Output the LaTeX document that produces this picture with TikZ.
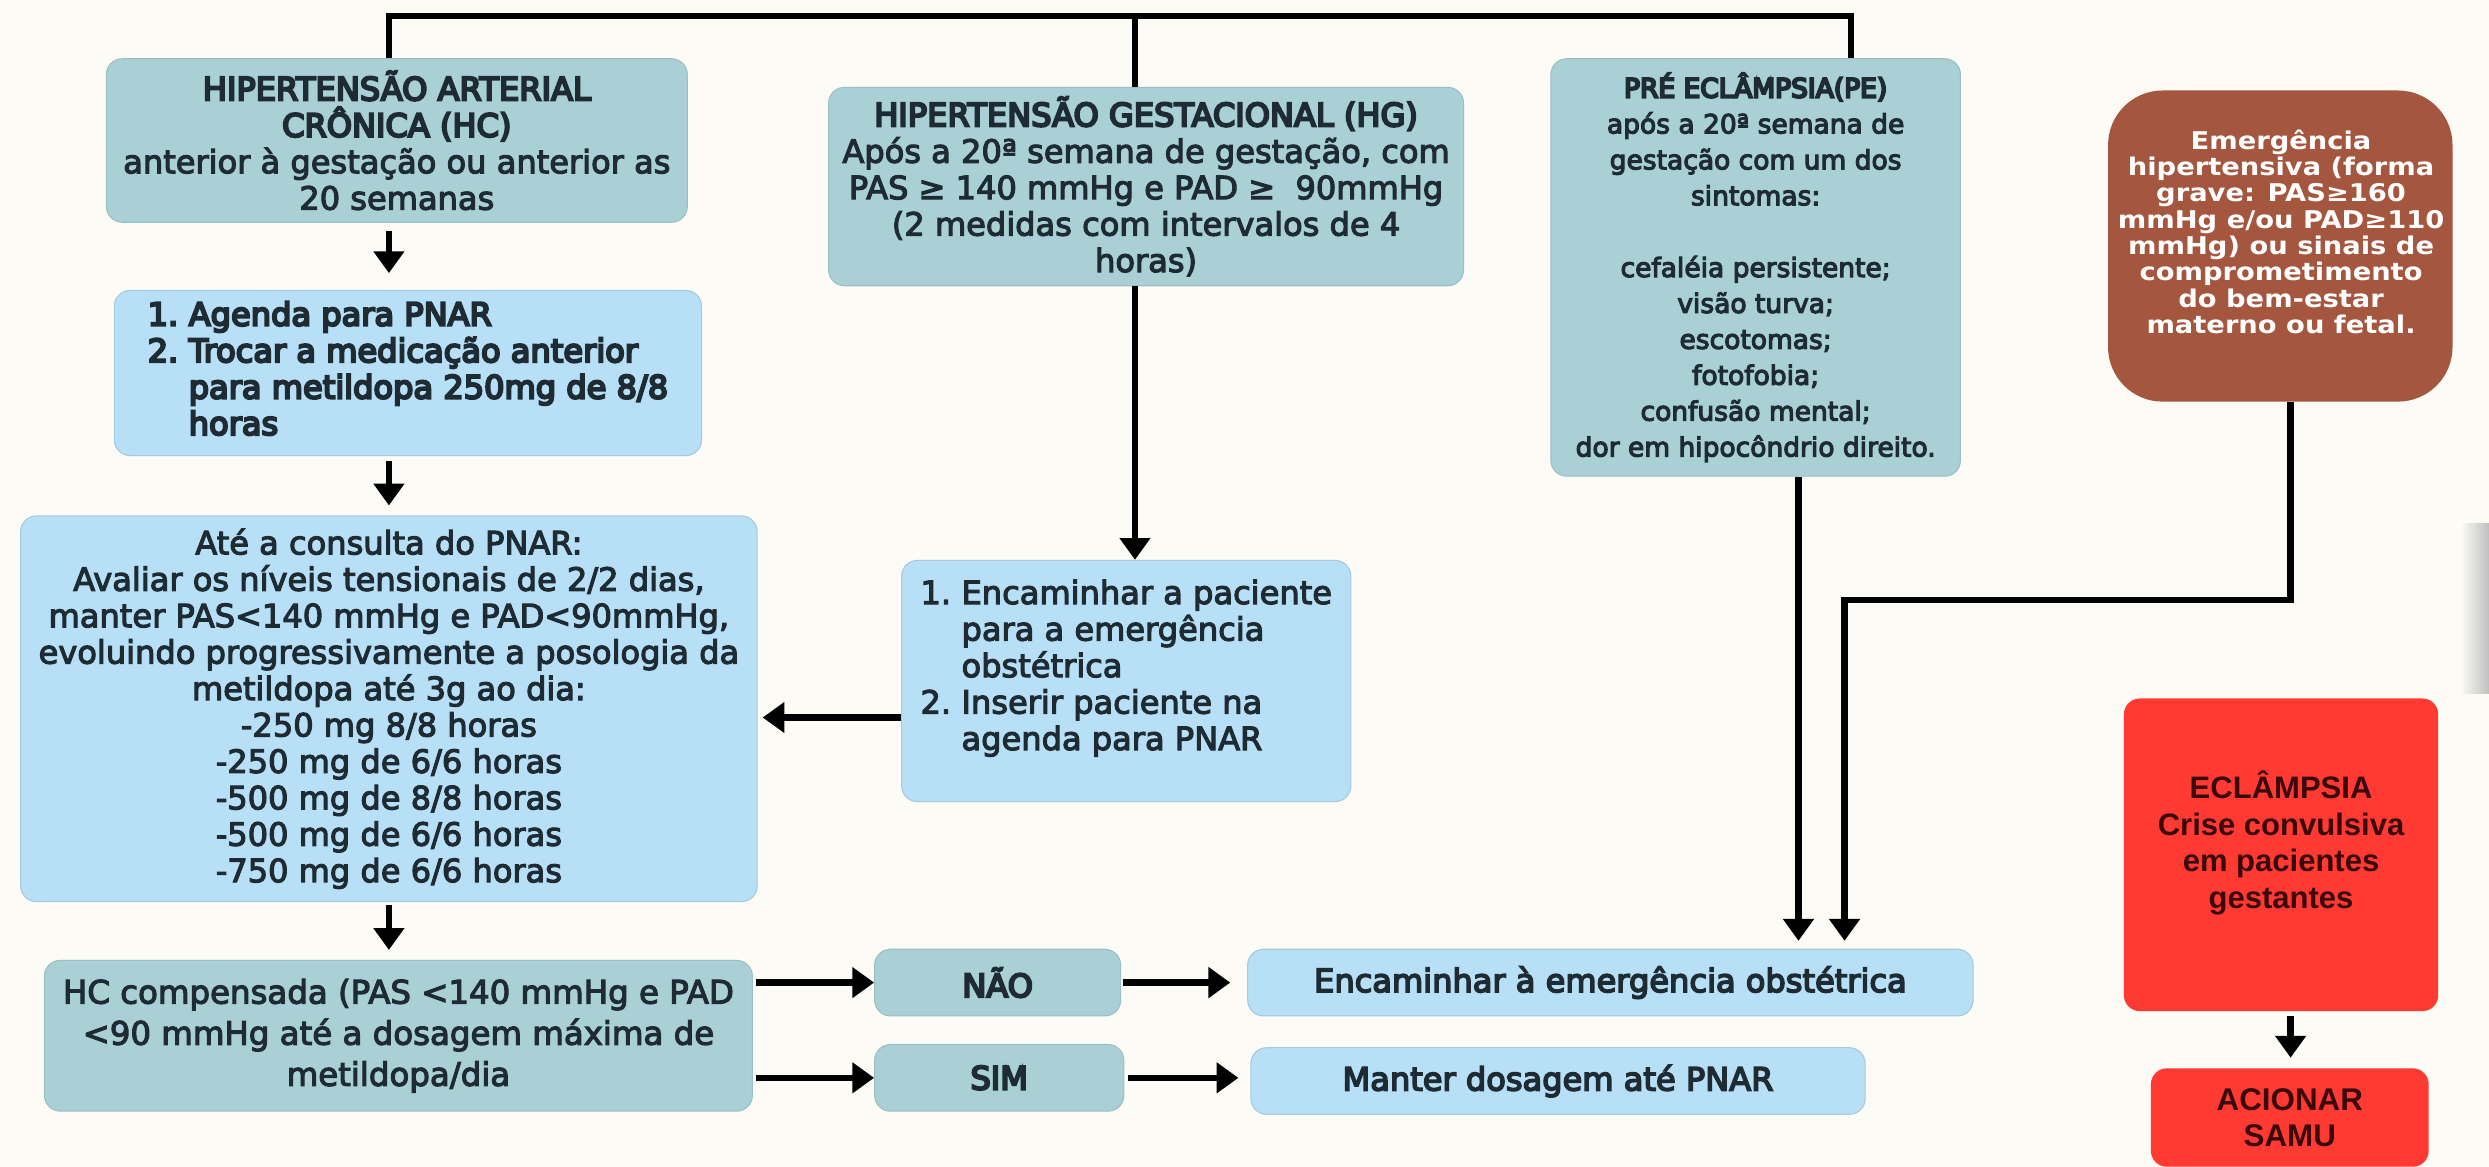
\documentclass[tikz,border=0pt]{standalone}
\usepackage{fontspec}
\setmainfont{DejaVu Sans}
\newfontfamily\brownf{DejaVu Sans Bold}[FakeStretch=1.12]
\newfontfamily\lib{Liberation Sans}
\usetikzlibrary{arrows.meta,calc}
\definecolor{bgc}{HTML}{FCFBF6}
\definecolor{tealc}{HTML}{A8D0D5}
\definecolor{bluec}{HTML}{B7DFF6}
\definecolor{brownc}{HTML}{A4563F}
\definecolor{redc}{HTML}{FF3A33}
\definecolor{txt}{HTML}{1E2B33}
\definecolor{redtxt}{HTML}{3A0808}
% text weight through stroke width (pdf text render mode 2)
\newcommand{\wt}[1]{\special{pdf:literal direct 2 Tr #1 w}}
\newcommand{\nowt}{\special{pdf:literal direct 0 Tr}}
\newcommand{\ttl}[1]{{\wt{0.6}#1\wt{0.32}}}
\newcommand{\fnine}{\fontsize{9.2}{10.45}\selectfont}
\begin{document}
\begin{tikzpicture}[x=0.016cm, y=-0.016cm,
  sz/.style 2 args={minimum width=#1*0.016cm, minimum height=#2*0.016cm},
  base/.style={rounded corners=0.16cm, align=center, inner sep=0pt, text=txt, font=\fnine\wt{0.32}},
  tealbox/.style={base, fill=tealc, draw=tealc!92!black, line width=0.3pt},
  bluebox/.style={base, fill=bluec, draw=bluec!90!black, line width=0.3pt},
  brownbox/.style={base, rounded corners=0.55cm, fill=brownc, draw=none},
  redbox/.style={base, fill=redc, draw=none},
  plain/.style={align=center, inner sep=0pt, text=txt, font=\fnine\wt{0.32}},
  conn/.style={line width=1.9pt, draw=black},
  arr/.style={conn, -{Triangle[width=0.3cm,length=0.22cm]}}
]
\fill[bgc] (0,0) rectangle (1568,735);
\useasboundingbox (0,0) rectangle (1568,735);
\shade[left color=bgc, right color=black!25, draw=none] (1550,330) rectangle (1568,437);

% left column
\node[tealbox, sz={366}{103}] (hc) at (250,88.5)
  {\ttl{HIPERTENSÃO ARTERIAL}\\\ttl{CRÔNICA (HC)}\\anterior à gestação ou anterior as\\20 semanas};
\node[bluebox, sz={370}{104}, font=\fnine\wt{0.6}] (ag) at (257,235)
  {\begin{tabular}{@{}r@{\hspace{3pt}}l@{}}
   1. & Agenda para PNAR\\
   2. & Trocar a medicação anterior\\
      & para metildopa 250mg de 8/8\\
      & horas
  \end{tabular}};
\node[bluebox, sz={464}{243}] (cons) at (245,446.5)
  {Até a consulta do PNAR:\\
   Avaliar os níveis tensionais de 2/2 dias,\\
   manter PAS<140 mmHg e PAD<90mmHg,\\
   evoluindo progressivamente a posologia da\\
   metildopa até 3g ao dia:\\
   -250 mg 8/8 horas\\
   -250 mg de 6/6 horas\\
   -500 mg de 8/8 horas\\
   -500 mg de 6/6 horas\\
   -750 mg de 6/6 horas};
\node[tealbox, sz={446}{95}, font=\fontsize{9.3}{11.8}\selectfont\wt{0.32}] (hcc) at (251,652.5)
  {HC compensada (PAS <140 mmHg e PAD\\<90 mmHg até a dosagem máxima de\\metildopa/dia};

% decisions
\node[tealbox, sz={155}{42}, font=\fnine\wt{0.6}] (nao) at (628.5,619) {NÃO};
\node[tealbox, sz={157}{42}, font=\fnine\wt{0.6}] (sim) at (629.5,679) {SIM};
\node[bluebox, sz={457}{42}, font=\fnine\wt{0.45}] (enc) at (1014.5,619) {Encaminhar à emergência obstétrica};
\node[bluebox, sz={387}{42}, font=\fnine\wt{0.45}] (man) at (981.5,681) {Manter dosagem até PNAR};

% middle column
\node[tealbox, sz={400}{125}] (hg) at (722,117.5)
  {\ttl{HIPERTENSÃO GESTACIONAL (HG)}\\
   Após a 20ª semana de gestação, com\\
   PAS ≥ 140 mmHg e PAD ≥\ \ 90mmHg\\
   (2 medidas com intervalos de 4\\
   horas)};
\node[bluebox, sz={283}{152}] (encp) at (709.5,429) {};
\node[plain, anchor=north] (encptxt) at (709.5,364)
  {\begin{tabular}{@{}r@{\hspace{3pt}}l@{}}
   1. & Encaminhar a paciente\\
      & para a emergência\\
      & obstétrica\\
   2. & Inserir paciente na\\
      & agenda para PNAR
  \end{tabular}};

% right column
\node[tealbox, sz={258}{263}, font=\fontsize{7.6}{10.3}\selectfont\wt{0.3}] (pe) at (1106,168.5)
  {\ttl{PRÉ ECLÂMPSIA(PE)}\\
   após a 20ª semana de\\
   gestação com um dos\\
   sintomas:\\[\baselineskip]
   cefaléia persistente;\\
   visão turva;\\
   escotomas;\\
   fotofobia;\\
   confusão mental;\\
   dor em hipocôndrio direito.};

\node[brownbox, sz={217}{196}] (br) at (1436.5,155) {};
\node[plain, text=white, font=\brownf\fontsize{7}{7.55}\selectfont\nowt] (brtxt) at (1437,146)
  {Emergência\\hipertensiva (forma\\grave: PAS≥160\\mmHg e/ou PAD≥110\\mmHg) ou sinais de\\comprometimento\\do bem-estar\\materno ou fetal.};

\node[redbox, sz={198}{197}] (red) at (1437,538.5) {};
\node[plain, text=redtxt, font=\lib\bfseries\fontsize{8.9}{10.5}\selectfont\nowt] (redtxtn) at (1437,531)
  {ECLÂMPSIA\\Crise convulsiva\\em pacientes\\gestantes};
\node[redbox, sz={175}{62}, text=redtxt, font=\lib\bfseries\fontsize{9}{10.5}\selectfont\nowt] (samu) at (1442.5,704)
  {ACIONAR\\SAMU};

% connectors
\coordinate (tl) at (245,10);
\coordinate (tm) at (715,10);
\coordinate (tr) at (1166,10);
\draw[conn] (tl |- hc.north) -- (tl) -- (tr) -- (tr |- pe.north);
\draw[conn] (tm) -- (tm |- hg.north);
\draw[arr] (tm |- hg.south) -- (tm |- encp.north);
\draw[arr, shorten <=0.08cm, shorten >=0.17cm] (tl |- hc.south) -- (tl |- ag.north);
\draw[arr, shorten <=0.05cm, shorten >=0.1cm] (tl |- ag.south) -- (tl |- cons.north);
\draw[arr, shorten <=0.03cm, shorten >=0.1cm] (tl |- cons.south) -- (tl |- hcc.north);
\coordinate (ey) at (0,452);
\draw[arr, shorten >=0.05cm] (encp.west |- ey) -- (cons.east |- ey);
\draw[arr, shorten <=0.03cm] (hcc.east |- nao.west) -- (nao.west);
\draw[arr, shorten <=0.03cm] (hcc.east |- sim.west) -- (sim.west);
\draw[arr, shorten <=0.02cm, shorten >=0.17cm] (nao.east) -- (enc.west);
\draw[arr, shorten <=0.04cm, shorten >=0.12cm] (sim.east) -- (sim.east -| man.west);
\coordinate (px) at (1133,0);
\draw[arr, shorten >=0.08cm] (px |- pe.south) -- (px |- enc.north);
\coordinate (bx) at (1443,0);
\coordinate (by) at (0,378);
\coordinate (b2) at (1162,0);
\draw[arr, shorten >=0.08cm] (bx |- br.south) -- (bx |- by) -- (b2 |- by) -- (b2 |- enc.north);
\draw[arr, shorten <=0.04cm, shorten >=0.1cm] (bx |- red.south) -- (bx |- samu.north);
\end{tikzpicture}
\end{document}
